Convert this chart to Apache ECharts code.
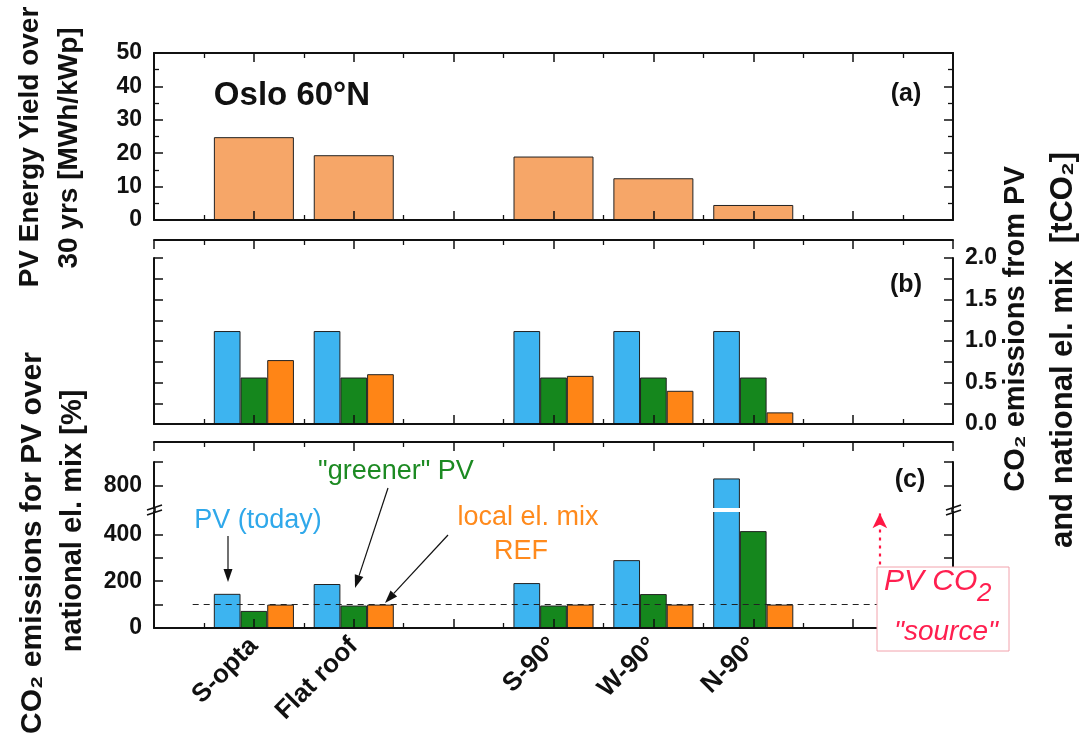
<!DOCTYPE html>
<html>
<head>
<meta charset="utf-8">
<script src="https://cdn.jsdelivr.net/npm/echarts@6.0.0/dist/echarts.min.js"></script>
<style>
  html, body { margin: 0; padding: 0; background: #fff; }
  #chart { width: 1081px; height: 745px; }
</style>
</head>
<body>
<div id="chart"></div>
<script>
// slots on the x axis (3 and 7 stay empty)
var positions = [1, 2, 4, 5, 6];
var categories = ['S-opta', 'Flat roof', 'S-90°', 'W-90°', 'N-90°'];

// (a) PV energy yield over 30 yrs [MWh/kWp]
var yieldData = [24.8, 19.4, 19.0, 12.5, 4.5];

// (b) CO2 emissions from PV and national el. mix [tCO2]
var co2PvToday = [1.12, 1.12, 1.12, 1.12, 1.12];
var co2PvGreener = [0.56, 0.56, 0.56, 0.56, 0.56];
var co2LocalMix = [0.77, 0.60, 0.58, 0.40, 0.14];

// (c) CO2 emissions for PV over national el. mix [%]
var relPvToday = [146, 188, 192, 290, 830];
var relPvGreener = [73, 96, 96, 145, 414];
var relLocalMix = [100, 100, 100, 100, 100];

// tick labels
var yieldTicks = [0, 10, 20, 30, 40, 50];
var co2Ticks = [0, 0.5, 1.0, 1.5, 2.0];
var relTicksLow = [0, 200, 400];
var relTicksHigh = [800];

var C_BLUE = '#3db4f0', C_GREEN = '#15871d', C_ORANGE = '#ff8516', C_PEACH = '#f6a668';
var FONT = '"Liberation Sans", Arial, sans-serif';

function pairs(vals) {
  return positions.map(function (p, i) { return [p, vals[i]]; });
}

var lineCol = '#111';
function tick() { return { show: true, inside: true, length: 9, lineStyle: { color: lineCol, width: 1.5 } }; }
function minor() { return { show: true, splitNumber: 2, length: 5, lineStyle: { color: lineCol, width: 1.3 } }; }

function xAx(grid, pos, extra) {
  return Object.assign({
    type: 'value', gridIndex: grid, position: pos, min: 0, max: 8, interval: 1,
    axisLine: { show: true, onZero: false, lineStyle: { color: lineCol, width: 2 } },
    axisTick: tick(), minorTick: minor(),
    axisLabel: { show: false }, splitLine: { show: false }, z: 5
  }, extra || {});
}

function yAx(grid, pos, min, max, interval, labels, useMinor) {
  return {
    type: 'value', gridIndex: grid, position: pos, min: min, max: max, interval: interval,
    axisLine: { show: true, onZero: false, lineStyle: { color: lineCol, width: 2 } },
    axisTick: tick(), minorTick: useMinor ? minor() : { show: false }, splitLine: { show: false },
    axisLabel: labels ? {
      show: true, margin: 12, color: '#111', fontFamily: FONT, fontWeight: 'bold', fontSize: 23,
      formatter: function (v) {
        for (var i = 0; i < labels.length; i++) {
          if (Math.abs(labels[i] - v) < 1e-9) return max <= 3 ? labels[i].toFixed(1) : String(labels[i]);
        }
        return '';
      }
    } : { show: false },
    z: 5
  };
}

function bar(name, x, y, data, color, width) {
  return {
    name: name, type: 'bar', xAxisIndex: x, yAxisIndex: y, data: pairs(data),
    barWidth: width, barGap: '0%', clip: true,
    itemStyle: { color: color, borderColor: '#222', borderWidth: 1 }
  };
}

function arrow(x1, y1, x2, y2) {
  var a = Math.atan2(y2 - y1, x2 - x1), L = 13, W = 4.5;
  var bx = x2 - L * Math.cos(a), by = y2 - L * Math.sin(a);
  var px = -Math.sin(a) * W, py = Math.cos(a) * W;
  return [
    { type: 'line', z: 50, shape: { x1: x1, y1: y1, x2: bx, y2: by }, style: { stroke: '#111', lineWidth: 1.2 } },
    { type: 'polygon', z: 50, shape: { points: [[x2, y2], [bx + px, by + py], [bx - px, by - py]] }, style: { fill: '#111' } }
  ];
}

function txt(x, y, text, size, color, weight, rot, style) {
  return {
    type: 'text', x: x, y: y, rotation: rot || 0, z: 60,
    style: {
      text: text, fill: color, fontFamily: FONT, fontSize: size, fontWeight: weight || 'normal',
      fontStyle: style || 'normal', align: 'center', verticalAlign: 'middle',
      textAlign: 'center', textVerticalAlign: 'middle'
    }
  };
}

var R = Math.PI / 2;
var graphics = [
  // axis titles
  txt(30, 147, 'PV Energy Yield over', 28, '#111', 'bold', R),
  txt(69, 148, '30 yrs [MWh/kWp]', 28, '#111', 'bold', R),
  txt(33, 543, 'CO\u2082 emissions for PV over', 30, '#111', 'bold', R),
  txt(73, 521, 'national el. mix [%]', 29, '#111', 'bold', R),
  txt(1016, 329, 'CO\u2082 emissions from PV', 29, '#111', 'bold', R),
  txt(1063, 350, 'and national el. mix  [tCO\u2082]', 31, '#111', 'bold', R),
  // panel texts
  txt(292, 96, 'Oslo 60°N', 33, '#111', 'bold'),
  txt(906, 94, '(a)', 25, '#111', 'bold'),
  txt(906, 285, '(b)', 25, '#111', 'bold'),
  txt(910, 480, '(c)', 25, '#111', 'bold'),
  txt(258, 521, 'PV (today)', 27, '#2fa8ea'),
  txt(396, 472, '"greener" PV', 27, '#1c8a22'),
  txt(528, 518, 'local el. mix', 27, '#ff8a1c'),
  txt(521, 552, 'REF', 27, '#ff8a1c'),
  // white strip of the broken axis
  { type: 'rect', z: 45, shape: { x: 156, y: 508, width: 795, height: 4 }, style: { fill: '#fff' } },
  // PV CO2 "source" box
  { type: 'rect', z: 40, shape: { x: 877, y: 567, width: 132, height: 84 }, style: { fill: '#fff', stroke: '#f2a2ac', lineWidth: 1 } },
  { type: 'text', z: 60, x: 884, y: 597, style: { text: 'PV CO', fill: '#ff1f4f', fontFamily: FONT, fontSize: 30, fontStyle: 'italic', align: 'left', verticalAlign: 'bottom', textAlign: 'left', textVerticalAlign: 'bottom' } },
  { type: 'text', z: 60, x: 977, y: 607, style: { text: '2', fill: '#ff1f4f', fontFamily: FONT, fontSize: 26, fontStyle: 'italic', align: 'left', verticalAlign: 'bottom', textAlign: 'left', textVerticalAlign: 'bottom' } },
  txt(946, 632, '"source"', 28, '#ff1f4f', 'normal', 0, 'italic'),
  // break marks
  { type: 'line', z: 50, shape: { x1: 147, y1: 510, x2: 162, y2: 505 }, style: { stroke: '#111', lineWidth: 1.5 } },
  { type: 'line', z: 50, shape: { x1: 147, y1: 515, x2: 162, y2: 510 }, style: { stroke: '#111', lineWidth: 1.5 } },
  { type: 'line', z: 50, shape: { x1: 946, y1: 510, x2: 961, y2: 505 }, style: { stroke: '#111', lineWidth: 1.5 } },
  { type: 'line', z: 50, shape: { x1: 946, y1: 515, x2: 961, y2: 510 }, style: { stroke: '#111', lineWidth: 1.5 } }
].concat(arrow(228, 536, 228, 582), arrow(388, 488, 355, 588), arrow(448, 535, 385, 603));

var chart = echarts.init(document.getElementById('chart'));

chart.setOption({
  animation: false,
  backgroundColor: '#fff',
  grid: [
    { left: 154, width: 799, top: 53, height: 167 },
    { left: 154, width: 799, top: 258, height: 166 },
    { left: 154, width: 799, top: 462, height: 47 },
    { left: 154, width: 799, top: 511, height: 117 }
  ],
  xAxis: [
    xAx(0, 'bottom'),
    xAx(0, 'top'),
    xAx(1, 'bottom'),
    xAx(1, 'top', { offset: 18 }),
    xAx(2, 'top', { offset: 20 }),
    xAx(3, 'bottom', {
      axisLabel: {
        show: true, rotate: 45, margin: 14, color: '#111', fontFamily: FONT, fontWeight: 'bold', fontSize: 26,
        formatter: function (v) { var i = positions.indexOf(v); return i >= 0 ? categories[i] : ''; }
      }
    })
  ],
  yAxis: [
    yAx(0, 'left', 0, 50, 10, yieldTicks, true),
    yAx(0, 'right', 0, 50, 10, null, true),
    yAx(1, 'left', 0, 2, 0.25, null, false),
    yAx(1, 'right', 0, 2, 0.25, co2Ticks, false),
    yAx(2, 'left', 700, 900, 100, relTicksHigh, false),
    yAx(2, 'right', 700, 900, 100, null, false),
    yAx(3, 'left', 0, 500, 100, relTicksLow, false),
    yAx(3, 'right', 0, 500, 100, null, false)
  ],
  graphic: graphics,
  series: [
    bar('yield', 0, 0, yieldData, C_PEACH, 80),

    bar('PV (today)', 2, 2, co2PvToday, C_BLUE, 26.7),
    bar('"greener" PV', 2, 2, co2PvGreener, C_GREEN, 26.7),
    bar('local el. mix', 2, 2, co2LocalMix, C_ORANGE, 26.7),

    bar('PV (today)', 4, 4, relPvToday, C_BLUE, 26.7),
    bar('"greener" PV', 4, 4, relPvGreener, C_GREEN, 26.7),
    bar('local el. mix', 4, 4, relLocalMix, C_ORANGE, 26.7),

    bar('PV (today)', 5, 6, relPvToday, C_BLUE, 26.7),
    bar('"greener" PV', 5, 6, relPvGreener, C_GREEN, 26.7),
    Object.assign(bar('local el. mix', 5, 6, relLocalMix, C_ORANGE, 26.7), {
      markLine: {
        silent: true, animation: false, label: { show: false },
        data: [
          [{ coord: [0.12, 100], symbol: 'none', lineStyle: { color: '#222', type: [6, 5], width: 1.2 } },
           { coord: [7.3, 100], symbol: 'none' }],
          [{ coord: [7, 100], symbol: 'none', lineStyle: { color: '#ff1744', type: [3, 5], width: 2.2 } },
           { coord: [7, 490], symbol: 'arrow', symbolSize: [11, 15] }]
        ]
      }
    })
  ]
});
</script>
</body>
</html>
